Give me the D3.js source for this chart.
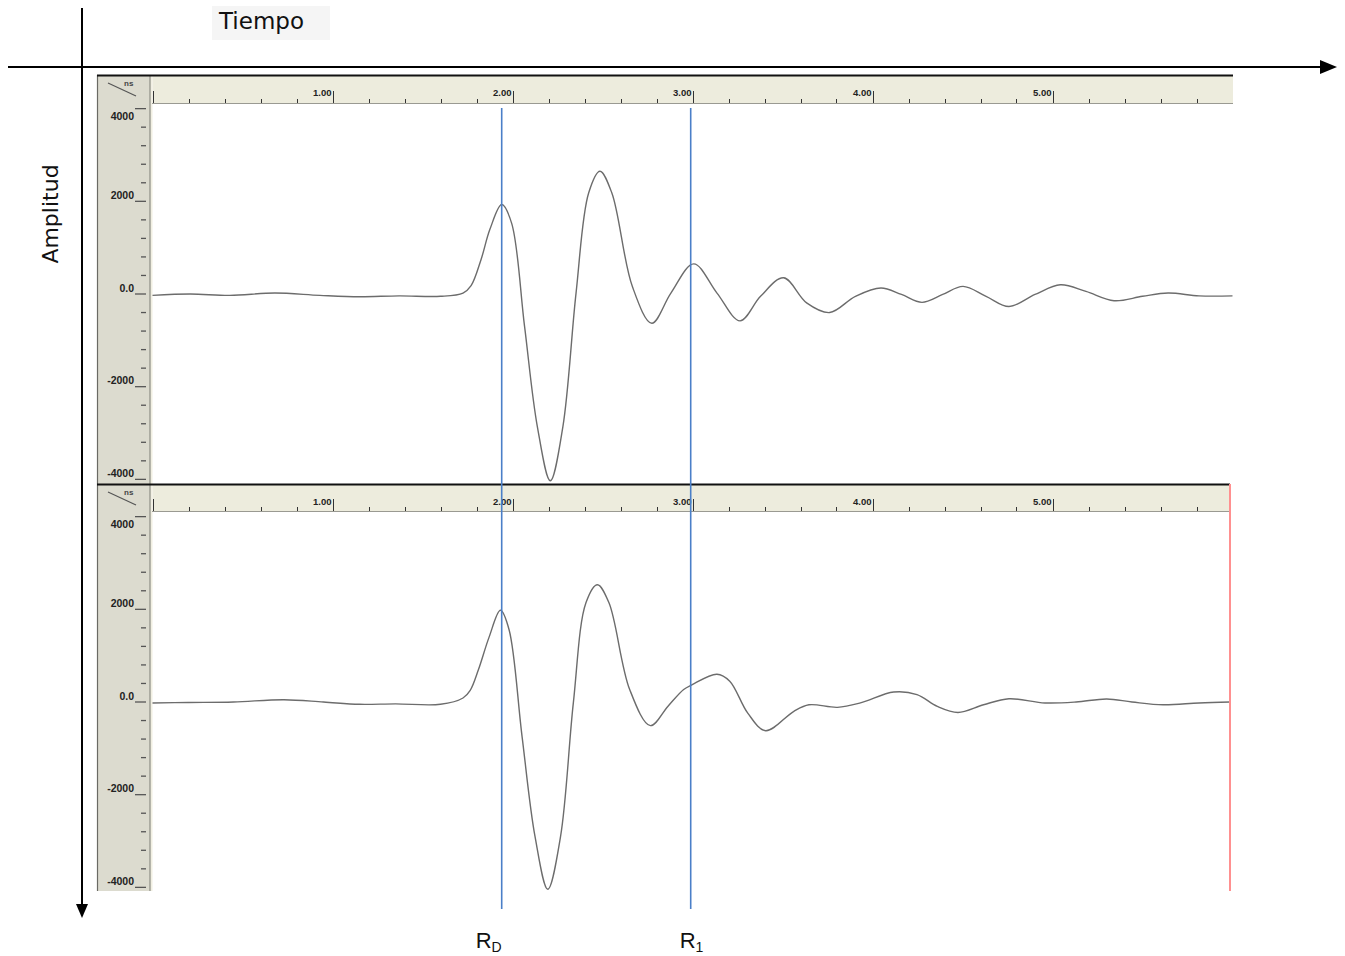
<!DOCTYPE html>
<html><head><meta charset="utf-8">
<script src="https://cdn.jsdelivr.net/npm/d3@7"></script>
<style>body{margin:0;background:#fff}svg{display:block}</style>
</head><body><svg id="chart" width="1345" height="956"></svg>
<script>
// ---- data ----
const times1 = [0,0.21,0.43,0.68,0.93,1.15,1.37,1.60,1.725,1.77,1.825,1.875,1.94,1.995,2.067,2.138,2.21,2.28,2.353,2.423,2.486,2.552,2.666,2.774,2.88,3.007,3.136,3.264,3.378,3.506,3.634,3.762,3.905,4.047,4.161,4.275,4.39,4.503,4.631,4.758,4.903,5.044,5.186,5.342,5.5,5.642,5.814,6.0];
const amp1   = [-30,0,-30,20,-30,-60,-40,-50,20,180,740,1400,1930,1530,-700,-2860,-4030,-2860,20,2180,2650,2180,160,-630,20,650,20,-580,-50,350,-190,-400,-50,130,-10,-180,-10,165,-50,-270,-10,200,55,-145,-50,20,-40,-40];
const times2 = [0,0.2,0.45,0.73,0.95,1.15,1.35,1.60,1.725,1.765,1.811,1.87,1.933,1.981,2.053,2.125,2.196,2.267,2.338,2.408,2.472,2.536,2.651,2.766,2.864,2.951,2.996,3.136,3.207,3.307,3.406,3.563,3.647,3.805,3.933,4.118,4.247,4.36,4.475,4.617,4.758,4.958,5.131,5.301,5.442,5.614,5.814,5.986];
const amp2   = [-20,-10,0,50,0,-50,-40,-50,86,250,700,1400,1980,1560,-740,-2900,-4040,-2900,-20,2140,2530,2140,270,-510,-90,270,370,600,450,-240,-620,-200,-60,-115,-20,215,160,-95,-225,-60,70,-20,0,65,0,-60,-20,0];
const xTickValues = [1,2,3,4,5];
const xTickLabels = ["1.00","2.00","3.00","4.00","5.00"];
const yTickValues = [4000,2000,0,-2000,-4000];
const yTickLabels = ["4000","2000","0.0","-2000","-4000"];
const markerTimes = [1.94, 2.99];
const markerMain = ["R","R"];
const markerSub = ["D","1"];

// ---- layout ----
const svg = d3.select("#chart");
const xLeft = 152.5, xRight = 1232.5;
const x = d3.scaleLinear().domain([0,6]).range([xLeft, xRight]);

const panels = [
  {rulerTop:75, plotTop:104, plotBottom:484, grayBottom:484, right:1233, times:times1, amps:amp1, red:false},
  {rulerTop:484, plotTop:512, plotBottom:892, grayBottom:891, right:1230, times:times2, amps:amp2, red:true}
];

// main axes
svg.append("line").attr("x1",82).attr("y1",8).attr("x2",82).attr("y2",906).attr("stroke","#000").attr("stroke-width",2);
svg.append("path").attr("d","M76,904 L88,904 L82,918 Z").attr("fill","#000");
svg.append("line").attr("x1",8).attr("y1",67).attr("x2",1322).attr("y2",67).attr("stroke","#000").attr("stroke-width",2);
svg.append("path").attr("d","M1320,60 L1320,74 L1337,67 Z").attr("fill","#000");

svg.append("rect").attr("x",212).attr("y",6).attr("width",118).attr("height",34).attr("fill","#f5f5f5");
svg.append("text").attr("x",219).attr("y",29).attr("font-family","DejaVu Sans").attr("font-size",23).attr("fill","#111").text("Tiempo");
svg.append("text").attr("transform","translate(58,214) rotate(-90)").attr("text-anchor","middle")
  .attr("font-family","DejaVu Sans").attr("font-size",22).attr("fill","#111").text("Amplitud");

panels.forEach(p => {
  const g = svg.append("g");
  const y = d3.scaleLinear().domain([-4100,4100]).range([p.plotBottom, p.plotTop]);
  g.append("rect").attr("x",152).attr("y",p.plotTop).attr("width",p.right-152).attr("height",p.plotBottom-p.plotTop).attr("fill","#fff");
  g.append("rect").attr("x",97).attr("y",p.rulerTop).attr("width",53).attr("height",p.grayBottom-p.rulerTop).attr("fill","#dcdbcf");
  g.append("rect").attr("x",150).attr("y",p.rulerTop).attr("width",2.5).attr("height",p.grayBottom-p.rulerTop).attr("fill","#f1efe2");
  g.append("line").attr("x1",150).attr("x2",150).attr("y1",p.rulerTop).attr("y2",p.grayBottom).attr("stroke","#8c8c84").attr("stroke-width",1.2);
  g.append("line").attr("x1",97.5).attr("x2",97.5).attr("y1",p.rulerTop).attr("y2",p.grayBottom).attr("stroke","#6a6a64").attr("stroke-width",1.2);
  g.append("rect").attr("x",152.5).attr("y",p.rulerTop).attr("width",p.right-152.5).attr("height",p.plotTop-p.rulerTop).attr("fill","#edecdd");
  g.append("line").attr("x1",152).attr("x2",p.right).attr("y1",p.plotTop-0.5).attr("y2",p.plotTop-0.5).attr("stroke","#9a9a92").attr("stroke-width",1.2);
  g.append("line").attr("x1",97).attr("x2",p.right).attr("y1",p.rulerTop+0.5).attr("y2",p.rulerTop+0.5).attr("stroke","#111").attr("stroke-width",2);

  // ns corner
  g.append("line").attr("x1",108).attr("y1",p.rulerTop+8).attr("x2",136).attr("y2",p.rulerTop+21).attr("stroke","#555").attr("stroke-width",1.2);
  g.append("text").attr("x",124).attr("y",p.rulerTop+11).attr("font-family","Liberation Sans").attr("font-weight","bold").attr("font-size",8).attr("fill","#444").text("ns");

  // x ruler ticks
  const minor = x.ticks(30).filter(t => t < 5.9);
  g.selectAll(null).data(minor).enter().append("line")
    .attr("x1",d=>Math.round(x(d))+0.5).attr("x2",d=>Math.round(x(d))+0.5)
    .attr("y1",d=>Math.abs(d-Math.round(d))<1e-6 ? p.plotTop-13 : p.plotTop-5).attr("y2",p.plotTop-1)
    .attr("stroke","#333").attr("stroke-width",1);
  g.selectAll(null).data(xTickValues).enter().append("text")
    .attr("x",d=>x(d)-1).attr("y",p.rulerTop+21).attr("text-anchor","end")
    .attr("font-family","Liberation Sans").attr("font-weight","bold").attr("font-size",9.5).attr("fill","#222")
    .text((d,i)=>xTickLabels[i]);

  // y ruler ticks
  const yMinor = d3.range(-4000, 4001, 400);
  g.selectAll(null).data(yMinor).enter().append("line")
    .attr("x1",d=> d%2000===0 ? 135 : 141).attr("x2",146)
    .attr("y1",d=>y(d)).attr("y2",d=>y(d))
    .attr("stroke","#555").attr("stroke-width",1.3);
  g.selectAll(null).data(yTickValues).enter().append("text")
    .attr("x",134).attr("y",d=> (y(d)-10 < p.plotTop) ? y(d)+11 : y(d)-2.5).attr("text-anchor","end")
    .attr("font-family","Liberation Sans").attr("font-weight","bold").attr("font-size",10.5).attr("fill","#222")
    .text((d,i)=>yTickLabels[i]);

  // trace
  const clipId = "clip"+p.rulerTop;
  svg.append("clipPath").attr("id",clipId).append("rect").attr("x",152).attr("y",p.plotTop).attr("width",p.right-152).attr("height",p.plotBottom-p.plotTop+2);
  const line = d3.line().x(d=>x(d[0])).y(d=>y(d[1])).curve(d3.curveCatmullRom.alpha(0.5));
  g.append("path").datum(p.times.map((t,i)=>[t,p.amps[i]]))
    .attr("d",line).attr("fill","none").attr("stroke","#6c6c6c").attr("stroke-width",1.4)
    .attr("clip-path","url(#"+clipId+")");
  if (p.red) {
    g.append("line").attr("x1",1230).attr("x2",1230).attr("y1",p.rulerTop).attr("y2",891).attr("stroke","#ff9090").attr("stroke-width",2);
  }
});

// marker lines
markerTimes.forEach((t,i) => {
  const xx = x(t);
  svg.append("line").attr("x1",xx).attr("x2",xx).attr("y1",108).attr("y2",909).attr("stroke","#4a7fc8").attr("stroke-width",1.6);
  const tx = svg.append("text").attr("x",xx + (i===0 ? -26 : -11)).attr("y",948).attr("font-family","Liberation Sans").attr("font-size",22).attr("fill","#111");
  tx.append("tspan").text(markerMain[i]);
  tx.append("tspan").attr("font-size",14).attr("dy",4).text(markerSub[i]);
});
</script></body></html>
